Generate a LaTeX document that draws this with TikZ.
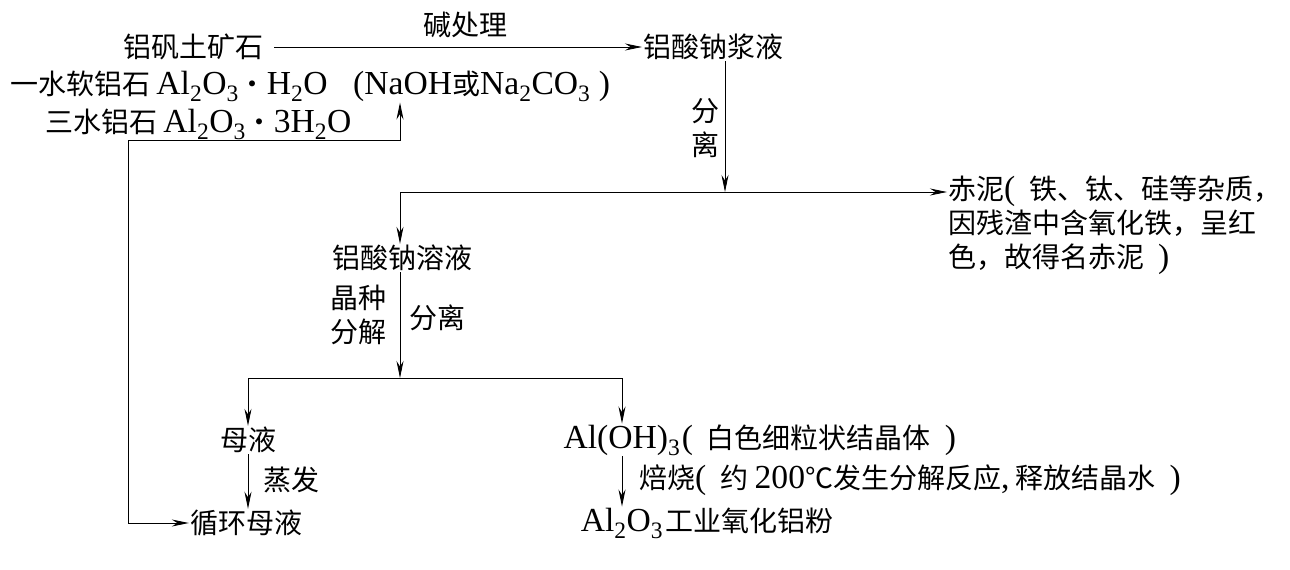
\documentclass[tikz,border=0pt]{standalone}
\usepackage{fontspec}
\setmainfont{Noto Sans CJK SC}
\newfontfamily\lat{Liberation Serif}[Scale=1.2]
\usepackage{tikz}
\usetikzlibrary{arrows.meta}
\usetikzlibrary{positioning}
\begin{document}
\begin{tikzpicture}[x=1pt,y=-1pt,
  txt/.style={font=\fontsize{28}{34}\selectfont,inner sep=1pt},
  arr/.style={-{Stealth[length=17pt,width=7pt]},line width=0.9pt},
  dbl/.style={{Stealth[length=17pt,width=7pt]}-{Stealth[length=17pt,width=7pt]},line width=0.9pt}]
\useasboundingbox (0,0) rectangle (1290,570);
\node[txt] (ore) at (193,47) {铝矾土矿石};
\node[txt,anchor=west] (slurry) at (642,47) {铝酸钠浆液};
\draw[arr,shorten <=10pt] (ore) -- (slurry);
\node[txt] (alk) at (465,25) {碱处理};
\node[txt,inner sep=0pt,anchor=west] (boeh) at (10,86) {一水软铝石 {\lat Al\textsubscript{2}O\textsubscript{3}}・{\lat H\textsubscript{2}O}};
\node[txt,anchor=west] (reag) at (352,86) {{\lat (NaOH}或{\lat Na\textsubscript{2}CO\textsubscript{3} )}};
\node[txt,inner sep=0pt,anchor=west] (gibb) at (45,124) {三水铝石 {\lat Al\textsubscript{2}O\textsubscript{3}}・{\lat 3H\textsubscript{2}O}};

\coordinate (sepA) at (725,192);
\coordinate (sepB) at (400,192);
\draw[arr] (slurry.south -| sepA) -- (sepA);
\node[txt,align=center,anchor=east] (sep1) at (721,128) {分\\离};
\node[txt,anchor=north west,align=left] (mud) at (947,175) {赤泥{\lat (}\enspace 铁、钛、硅等杂质，\\因残渣中含氧化铁，呈红\\色，故得名赤泥\enspace{\lat )}};
\draw[arr] (sepB) -- (sepB -| mud.west);
\node[txt] (sol) at (402,258) {铝酸钠溶液};
\draw[arr] (sepB) -- (sepB |- sol.north);

\coordinate (spl) at (400,378);
\coordinate (splL) at (248,378);
\coordinate (splR) at (622,378);
\draw[arr] (sol.south -| spl) -- (spl);
\node[txt,align=center,anchor=east] (seed) at (388,315) {晶种\\分解};
\node[txt,anchor=west] (sep2) at (408,318) {分离};
\draw[line width=0.9pt] (splL) -- (splR);
\node[txt] (mother) at (248,440) {母液};
\node[txt] (hyd) at (622,440) {{\lat Al(OH)\textsubscript{3}}};
\node[txt,base right=-1pt of hyd] (hydn) {{\lat (}\enspace 白色细粒状结晶体\enspace{\lat )}};
\draw[arr] (splL) -- (mother);
\draw[arr] (splR) -- (hyd);

\node[txt] (recyc) at (246,523) {循环母液};
\draw[arr] (mother.south) -- (mother.south |- recyc.north);
\node[txt,anchor=west] (evap) at (262,480) {蒸发};
\node[txt] (alu) at (622,523) {{\lat Al\textsubscript{2}O\textsubscript{3}}};
\node[txt,base right=0pt of alu] (alun) {工业氧化铝粉};
\draw[arr] (hyd.south) -- (alu.north);
\node[txt,anchor=west] (calc) at (638,480) {焙烧{\lat (}\enspace 约 {\lat 200}℃发生分解反应{\lat ,} 释放结晶水\enspace{\lat )}};

\coordinate (lpR) at (400,140);
\coordinate (lpL) at (128,140);
\draw[dbl] (reag.south -| lpR) -- (lpR) -- (lpL) |- (recyc.west);
\end{tikzpicture}
\end{document}
